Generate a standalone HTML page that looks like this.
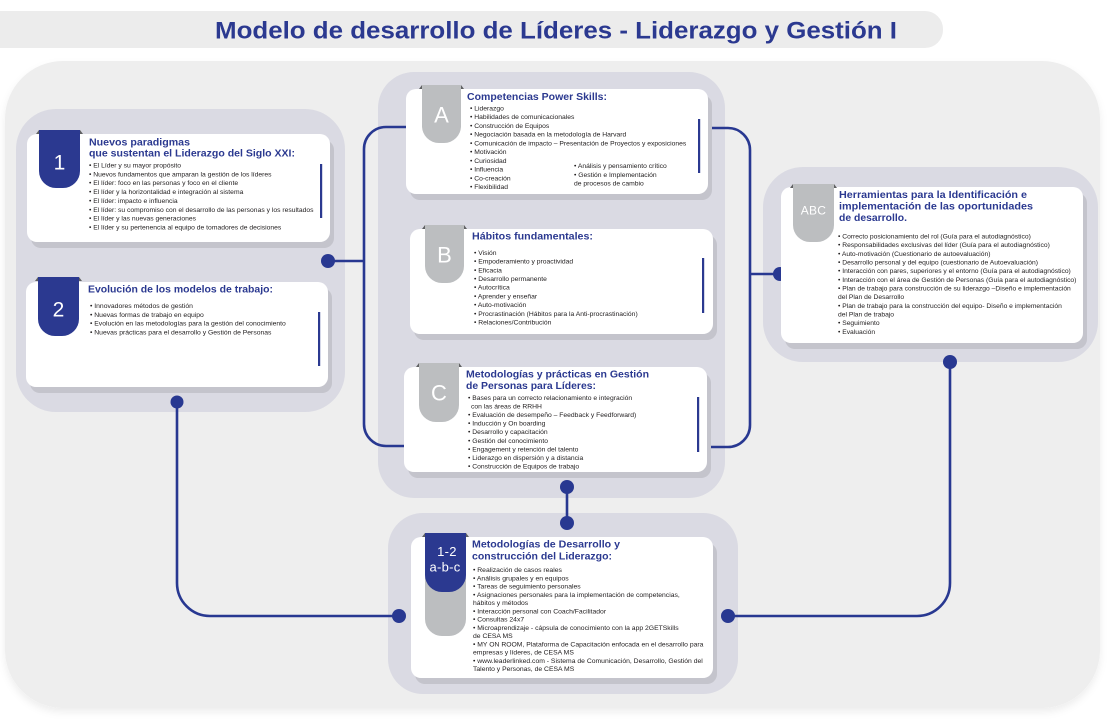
<!DOCTYPE html>
<html><head><meta charset="utf-8"><style>
html,body{margin:0;padding:0;background:#fff;width:1113px;height:720px;overflow:hidden}
svg{display:block}
.t{font-family:"Liberation Sans",Arial,sans-serif;font-weight:bold;fill:#2b3990}
.b{font-family:"Liberation Sans",Arial,sans-serif;fill:#1f1c1d}
.r{font-family:"Liberation Sans",Arial,sans-serif;fill:#fff;text-anchor:middle}
</style></head><body>
<svg width="1113" height="720" viewBox="0 0 1113 720" xmlns="http://www.w3.org/2000/svg">
<defs>
<filter id="sh" x="-5%" y="-5%" width="110%" height="115%"><feDropShadow dx="0" dy="4" stdDeviation="4" flood-color="#000" flood-opacity="0.07"/></filter>
</defs>
<!-- title bar -->
<rect x="-30" y="11" width="973" height="37" rx="18" fill="#ececec"/>
<text class="t" x="215" y="38.5" font-size="24" textLength="682" lengthAdjust="spacingAndGlyphs">Modelo de desarrollo de Líderes - Liderazgo y Gestión I</text>
<!-- outer panel -->
<rect x="5" y="61" width="1095" height="647" rx="58" fill="#eeeeee" filter="url(#sh)"/>
<!-- panels -->
<rect x="16" y="109" width="329" height="303" rx="40" fill="#dadae3"/>
<rect x="378" y="72" width="347" height="426" rx="36" fill="#dadae3"/>
<rect x="763" y="167" width="335" height="195" rx="40" fill="#dadae3"/>
<rect x="388" y="513" width="350" height="181" rx="35" fill="#dadae3"/>

<!-- connectors -->
<g fill="none" stroke="#283891" stroke-width="2.6">
<path d="M406,127 H386 A22,22 0 0 0 364,149 V424 A22,22 0 0 0 386,446 H404"/>
<path d="M328,261 H364"/>
<path d="M708,128 H728 A22,22 0 0 1 750,150 V425 A22,22 0 0 1 728,447 H711"/>
<path d="M750,274 H780"/>
<path d="M567,487 V523"/>
<path d="M177,402 V583 A33,33 0 0 0 210,616 H399"/>
<path d="M950,362 V583 A33,33 0 0 1 917,616 H728"/>
</g>
<g fill="#283891">
<circle cx="328" cy="261" r="7"/>
<circle cx="780" cy="274" r="7"/>
<circle cx="567" cy="487" r="7"/>
<circle cx="567" cy="523" r="7"/>
<circle cx="177" cy="402" r="6.5"/>
<circle cx="399" cy="616" r="7"/>
<circle cx="950" cy="362" r="7"/>
<circle cx="728" cy="616" r="7"/>
</g>

<!-- card shadows -->
<g fill="#c4c4cc">
<rect x="31" y="140" width="303" height="108" rx="10"/>
<rect x="30" y="288" width="302" height="105" rx="10"/>
<rect x="410" y="95" width="302" height="105" rx="10"/>
<rect x="414" y="235" width="303" height="105" rx="10"/>
<rect x="408" y="373" width="303" height="105" rx="10"/>
<rect x="785" y="193" width="302" height="156" rx="10"/>
<rect x="415" y="543" width="302" height="141" rx="10"/>
</g>
<!-- cards -->
<g fill="#ffffff">
<rect x="27" y="134" width="303" height="108" rx="10"/>
<rect x="26" y="282" width="302" height="105" rx="10"/>
<rect x="406" y="89" width="302" height="105" rx="10"/>
<rect x="410" y="229" width="303" height="105" rx="10"/>
<rect x="404" y="367" width="303" height="105" rx="10"/>
<rect x="781" y="187" width="302" height="156" rx="10"/>
<rect x="411" y="537" width="302" height="141" rx="10"/>
</g>
<!-- vertical bars -->
<g fill="#2b3990">
<rect x="320" y="164" width="2.2" height="54"/>
<rect x="318" y="312" width="2.2" height="54"/>
<rect x="698" y="119" width="2.2" height="54"/>
<rect x="702" y="258" width="2.2" height="55"/>
<rect x="697" y="397" width="2.2" height="55"/>
</g>

<!-- ribbons: fold triangles -->
<g fill="#5f6062">
<path d="M36,134 L39,130 L39,134 Z"/><path d="M80,130 L83,134 L80,134 Z"/>
<path d="M35,281 L38,277 L38,281 Z"/><path d="M79,277 L82,281 L79,281 Z"/>
<path d="M419,89 L422,85 L422,89 Z"/><path d="M461,85 L464,89 L461,89 Z"/>
<path d="M422,229 L425,225 L425,229 Z"/><path d="M464,225 L467,229 L464,229 Z"/>
<path d="M416,367 L419,363 L419,367 Z"/><path d="M459,363 L462,367 L459,367 Z"/>
<path d="M790,188 L793,184 L793,188 Z"/><path d="M834,184 L837,188 L834,188 Z"/>
<path d="M422,537 L425,533 L425,537 Z"/><path d="M466,533 L469,537 L466,537 Z"/>
</g>
<!-- ribbons -->
<path d="M39,130 H80 V171 A17,17 0 0 1 63,188 H56 A17,17 0 0 1 39,171 Z" fill="#2b3990"/>
<path d="M38,277 H79 V319 A17,17 0 0 1 62,336 H55 A17,17 0 0 1 38,319 Z" fill="#2b3990"/>
<path d="M422,85 H461 V126 A17,17 0 0 1 444,143 H439 A17,17 0 0 1 422,126 Z" fill="#bcbec0"/>
<path d="M425,225 H464 V266 A17,17 0 0 1 447,283 H442 A17,17 0 0 1 425,266 Z" fill="#bcbec0"/>
<path d="M419,363 H459 V405 A17,17 0 0 1 442,422 H436 A17,17 0 0 1 419,405 Z" fill="#bcbec0"/>
<path d="M793,184 H834 V225 A17,17 0 0 1 817,242 H810 A17,17 0 0 1 793,225 Z" fill="#bcbec0"/>
<path d="M425,533 H466 V619 A17,17 0 0 1 449,636 H442 A17,17 0 0 1 425,619 Z" fill="#bcbec0"/>
<path d="M425,533 H466 V575 A17,17 0 0 1 449,592 H442 A17,17 0 0 1 425,575 Z" fill="#2b3990"/>

<!-- ribbon labels -->
<text class="r" x="59.5" y="169.5" font-size="21">1</text>
<text class="r" x="58.5" y="316.5" font-size="21">2</text>
<text class="r" x="441.5" y="122.7" font-size="22">A</text>
<text class="r" x="444.5" y="262.3" font-size="22">B</text>
<text class="r" x="439" y="400.5" font-size="22">C</text>
<text class="r" x="813.5" y="214.5" font-size="12" letter-spacing="0.3">ABC</text>
<text class="r" x="447" y="556" font-size="13" letter-spacing="0.3">1-2</text>
<text class="r" x="445" y="571.5" font-size="13" letter-spacing="0.3">a-b-c</text>

<!-- Card 1 -->
<text class="t" x="89" y="145.5" font-size="10" textLength="101" lengthAdjust="spacingAndGlyphs">Nuevos paradigmas</text>
<text class="t" x="89" y="156.5" font-size="10" textLength="206" lengthAdjust="spacingAndGlyphs">que sustentan el Liderazgo del Siglo XXI:</text>
<g class="b" font-size="6.75">
<text x="89" y="167.5">• El Líder y su mayor propósito</text>
<text x="89" y="176.4">• Nuevos fundamentos que amparan la gestión de los líderes</text>
<text x="89" y="185.2">• El líder: foco en las personas y foco en el cliente</text>
<text x="89" y="194.1">• El líder y la horizontalidad e integración al sistema</text>
<text x="89" y="203">• El líder: impacto e influencia</text>
<text x="89" y="211.8">• El líder: su compromiso con el desarrollo de las personas y los resultados</text>
<text x="89" y="220.7">• El líder y las nuevas generaciones</text>
<text x="89" y="229.5">• El líder y su pertenencia al equipo de tomadores de decisiones</text>
</g>

<!-- Card 2 -->
<text class="t" x="88" y="292.5" font-size="10" textLength="185" lengthAdjust="spacingAndGlyphs">Evolución de los modelos de trabajo:</text>
<g class="b" font-size="6.8">
<text x="90" y="308.2">• Innovadores métodos de gestión</text>
<text x="90" y="316.9">• Nuevas formas de trabajo en equipo</text>
<text x="90" y="325.6">• Evolución en las metodologías para la gestión del conocimiento</text>
<text x="90" y="334.3">• Nuevas prácticas para el desarrollo y Gestión de Personas</text>
</g>

<!-- Card A -->
<text class="t" x="467" y="100" font-size="10" textLength="140" lengthAdjust="spacingAndGlyphs">Competencias Power Skills:</text>
<g class="b" font-size="6.75">
<text x="470" y="110.5">• Liderazgo</text>
<text x="470" y="119.2">• Habilidades de comunicacionales</text>
<text x="470" y="128">• Construcción de Equipos</text>
<text x="470" y="136.7">• Negociación basada en la metodología de Harvard</text>
<text x="470" y="145.4">• Comunicación de impacto – Presentación de Proyectos y exposiciones</text>
<text x="470" y="154.1">• Motivación</text>
<text x="470" y="162.9">• Curiosidad</text>
<text x="470" y="171.6">• Influencia</text>
<text x="470" y="180.4">• Co-creación</text>
<text x="470" y="189.1">• Flexibilidad</text>
<text x="574" y="167.9">• Análisis y pensamiento crítico</text>
<text x="574" y="176.9">• Gestión e Implementación</text>
<text x="574" y="185.5">de procesos de cambio</text>
</g>

<!-- Card B -->
<text class="t" x="472" y="239.5" font-size="10" textLength="121" lengthAdjust="spacingAndGlyphs">Hábitos fundamentales:</text>
<g class="b" font-size="6.75">
<text x="474" y="254.9">• Visión</text>
<text x="474" y="263.6">• Empoderamiento y proactividad</text>
<text x="474" y="272.3">• Eficacia</text>
<text x="474" y="281">• Desarrollo permanente</text>
<text x="474" y="289.7">• Autocrítica</text>
<text x="474" y="298.4">• Aprender y enseñar</text>
<text x="474" y="307.1">• Auto-motivación</text>
<text x="474" y="315.8">• Procrastinación (Hábitos para la Anti-procrastinación)</text>
<text x="474" y="324.5">• Relaciones/Contribución</text>
</g>

<!-- Card C -->
<text class="t" x="466" y="377.5" font-size="10" textLength="183" lengthAdjust="spacingAndGlyphs">Metodologías y prácticas en Gestión</text>
<text class="t" x="466" y="389" font-size="10" textLength="130" lengthAdjust="spacingAndGlyphs">de Personas para Líderes:</text>
<g class="b" font-size="6.75">
<text x="468" y="399.9">• Bases para un correcto relacionamiento e integración</text>
<text x="471" y="408.5">con las áreas de RRHH</text>
<text x="468" y="417.1">• Evaluación de desempeño – Feedback y Feedforward)</text>
<text x="468" y="425.6">• Inducción y On boarding</text>
<text x="468" y="434.2">• Desarrollo y capacitación</text>
<text x="468" y="442.8">• Gestión del conocimiento</text>
<text x="468" y="451.4">• Engagement y retención del talento</text>
<text x="468" y="460">• Liderazgo en dispersión y a distancia</text>
<text x="468" y="468.5">• Construcción de Equipos de trabajo</text>
</g>

<!-- Card ABC -->
<text class="t" x="839" y="198" font-size="10" textLength="188" lengthAdjust="spacingAndGlyphs">Herramientas para la Identificación e</text>
<text class="t" x="839" y="209.5" font-size="10" textLength="194" lengthAdjust="spacingAndGlyphs">implementación de las oportunidades</text>
<text class="t" x="839" y="221" font-size="10" textLength="68" lengthAdjust="spacingAndGlyphs">de desarrollo.</text>
<g class="b" font-size="6.72">
<text x="838" y="238.5">• Correcto posicionamiento del rol (Guía para el autodiagnóstico)</text>
<text x="838" y="247.2">• Responsabilidades exclusivas del líder (Guía para el autodiagnóstico)</text>
<text x="838" y="255.8">• Auto-motivación (Cuestionario de autoevaluación)</text>
<text x="838" y="264.5">• Desarrollo personal y del equipo (cuestionario de Autoevaluación)</text>
<text x="838" y="273.2">• Interacción con pares, superiores y el entorno (Guía para el autodiagnóstico)</text>
<text x="838" y="281.9">• Interacción con el área de Gestión de Personas (Guía para el autodiagnóstico)</text>
<text x="838" y="290.5">• Plan de trabajo para construcción de su liderazgo –Diseño e implementación</text>
<text x="838" y="299.2">del Plan de Desarrollo</text>
<text x="838" y="307.9">• Plan de trabajo para la construcción del equipo- Diseño e implementación</text>
<text x="838" y="316.5">del Plan de trabajo</text>
<text x="838" y="325.2">• Seguimiento</text>
<text x="838" y="333.9">• Evaluación</text>
</g>

<!-- Bottom card -->
<text class="t" x="472" y="547.5" font-size="10" textLength="148" lengthAdjust="spacingAndGlyphs">Metodologías de Desarrollo y</text>
<text class="t" x="472" y="559.5" font-size="10" textLength="140" lengthAdjust="spacingAndGlyphs">construcción del Liderazgo:</text>
<g class="b" font-size="6.8">
<text x="473" y="572.2">• Realización de casos reales</text>
<text x="473" y="580.5">• Análisis grupales y en equipos</text>
<text x="473" y="588.7">• Tareas de seguimiento personales</text>
<text x="473" y="597">• Asignaciones personales para la implementación de competencias,</text>
<text x="473" y="605.2">hábitos y métodos</text>
<text x="473" y="613.5">• Interacción personal con Coach/Facilitador</text>
<text x="473" y="621.7">• Consultas 24x7</text>
<text x="473" y="630">• Microaprendizaje - cápsula de conocimiento con la app 2GETSkills</text>
<text x="473" y="638.2">de CESA MS</text>
<text x="473" y="646.5">• MY ON ROOM, Plataforma de Capacitación enfocada en el desarrollo para</text>
<text x="473" y="654.7">empresas y líderes, de CESA MS</text>
<text x="473" y="663">• www.leaderlinked.com - Sistema de Comunicación, Desarrollo, Gestión del</text>
<text x="473" y="671.2">Talento y Personas, de CESA MS</text>
</g>
</svg>
</body></html>
